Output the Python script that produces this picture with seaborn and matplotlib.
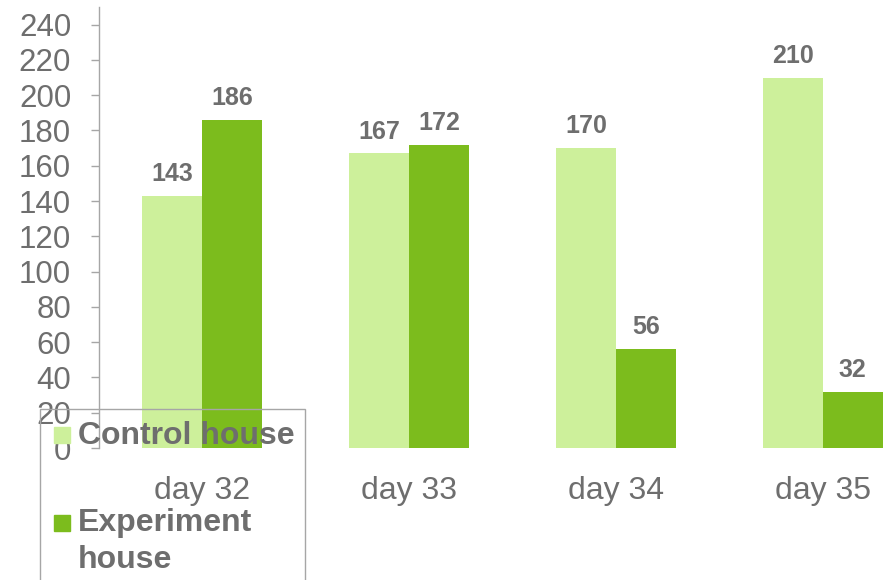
import pandas as pd
import seaborn as sns
import matplotlib.pyplot as plt
from matplotlib.patches import Rectangle

# datos
days = ['day 32', 'day 33', 'day 34', 'day 35']
control = [143, 167, 170, 210]
experiment = [186, 172, 56, 32]
series = ['Control house', 'Experiment house']

df = pd.DataFrame({
    'day': days * 2,
    'house': [series[0]] * len(days) + [series[1]] * len(days),
    'value': control + experiment,
})

light = '#CDF09B'
dark = '#7CBC1D'
grey = '#6E6E6E'

sns.set_style('white')
plt.rcParams['font.family'] = ['Liberation Sans', 'DejaVu Sans']

fig = plt.figure(figsize=(8.88, 5.8), dpi=100)
ax = fig.add_axes([99 / 888, 1 - 448 / 580, 827 / 888, 441 / 580])

sns.barplot(data=df, x='day', y='value', hue='house', order=days,
            hue_order=series, palette=[light, dark], width=0.58,
            saturation=1, linewidth=0, legend=False, ax=ax)

for cont in ax.containers:
    ax.bar_label(cont, padding=7, fontsize=18, fontweight='bold', color=grey)

ax.set_ylim(0, 250)
ax.set_xlim(-0.5, 3.5)
ax.set_yticks(range(0, 241, 20))
ax.set_xlabel('')
ax.set_ylabel('')
ax.tick_params(axis='y', left=True, length=6, width=1, color='#A6A6A6',
               pad=14, labelsize=22.5, labelcolor=grey)
ax.tick_params(axis='x', bottom=False, pad=17, labelsize=23, labelcolor=grey)
sns.despine(ax=ax, top=True, right=True, bottom=True)
ax.spines['left'].set_color('#A6A6A6')
ax.spines['left'].set_linewidth(1)
ax.patch.set_alpha(0)

# leyenda a mano (marco abierto abajo)
W, H = 888, 580
fig.add_artist(Rectangle((40 / W, -0.1), 265 / W, 1 - 409 / H + 0.1,
                         transform=fig.transFigure, fill=False,
                         edgecolor='#A6A6A6', linewidth=1, zorder=5))
fig.add_artist(Rectangle((54 / W, 1 - 443 / H), 16 / W, 16 / H,
                         transform=fig.transFigure, color=light, zorder=6))
fig.add_artist(Rectangle((54 / W, 1 - 531 / H), 16 / W, 16 / H,
                         transform=fig.transFigure, color=dark, zorder=6))
fig.text(78 / W, 1 - 436 / H, 'Control house', fontsize=23, fontweight='bold',
         color=grey, va='center', ha='left', zorder=7)
fig.text(78 / W, 1 - 523 / H, 'Experiment', fontsize=23, fontweight='bold',
         color=grey, va='center', ha='left', zorder=7)
fig.text(78 / W, 1 - 560 / H, 'house', fontsize=23, fontweight='bold',
         color=grey, va='center', ha='left', zorder=7)

plt.savefig('out.png', dpi=100)
